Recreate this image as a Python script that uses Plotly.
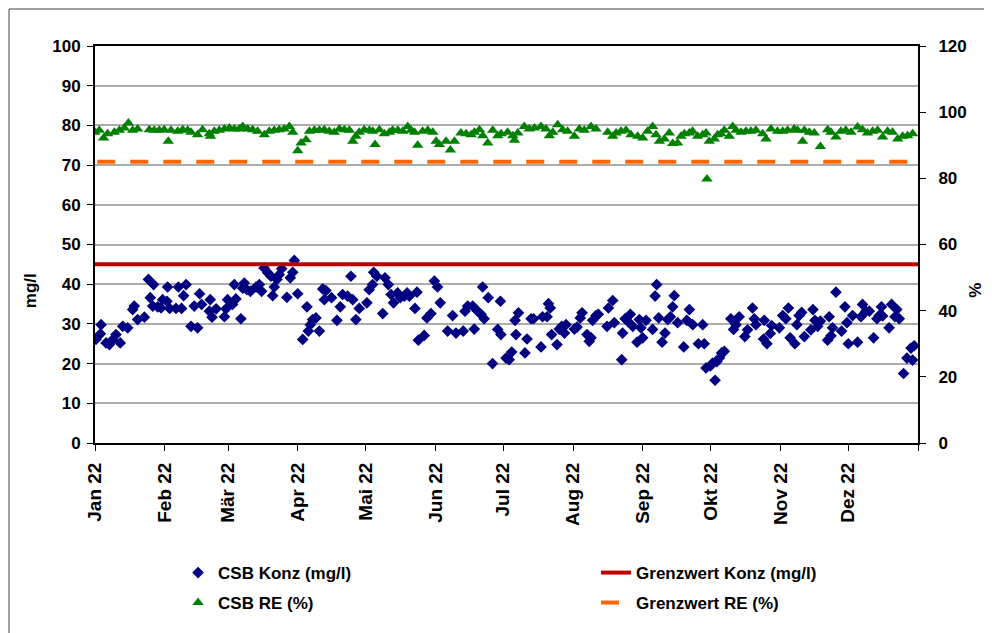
import pandas as pd
import plotly.graph_objects as go

# ---- data ----
# day offset from 1 Jan 2022, CSB concentration in mg/l
konz_day = [0.4, 2.4, 2.7, 4.9, 6.4, 7.8, 9.3, 11.2, 12.3, 14.5, 16.7, 17.4, 18.9, 21.9, 23.7, 24.5, 25.6, 26.0,
            27.8, 29.3, 30.0, 31.9, 32.2, 33.1, 35.9, 37.0, 38.4, 39.3, 40.4, 42.6, 44.0, 45.5, 46.4, 47.3, 50.7,
            51.1, 51.9, 53.7, 57.4, 58.1, 58.8, 61.0, 61.8, 62.5, 64.7, 65.5, 66.2, 67.4, 68.9, 71.4, 72.9, 73.9,
            75.0, 76.6, 78.0, 78.8, 79.5, 80.7, 81.7, 82.8, 85.1, 86.6, 87.7, 88.4, 89.9, 92.1, 94.0, 94.6,
            95.5, 96.5, 98.0, 99.5, 101.0, 101.7, 102.4, 104.9, 107.3, 108.8, 109.8, 112.0, 113.5, 114.3, 115.7,
            117.2, 120.6, 121.6, 123.1, 123.6, 125.0, 127.6, 128.6, 130.1, 131.3, 132.4, 134.2, 135.4, 137.2,
            138.4, 139.4, 141.9, 142.8, 143.4, 146.0, 147.2, 149.0, 150.5, 151.9, 153.1, 156.4, 158.6, 160.1,
            163.3, 164.1, 165.3, 167.5, 168.2, 169.7, 171.2, 171.9, 172.6, 174.4, 176.3, 178.6, 179.8, 180.0,
            182.3, 183.7, 184.8, 186.3, 186.7, 187.8, 190.7, 191.6, 193.4, 194.5, 197.8, 198.5, 200.5, 201.1,
            201.9, 202.5, 204.9, 205.9, 207.0, 208.2, 208.9, 212.6, 213.8, 215.2, 216.0, 218.2, 219.2, 220.0,
            220.7, 222.2, 223.2, 227.1, 227.7, 229.6, 230.3, 233.6, 234.0, 235.1, 236.2, 237.4, 238.5, 240.4,
            241.4, 242.1, 242.9, 244.4, 247.3, 248.4, 249.1, 250.0, 251.5, 252.8, 254.0, 255.2, 256.2, 256.9,
            258.4, 261.1, 262.5, 263.6, 265.1, 267.6, 269.5, 270.2, 271.0, 272.9, 273.9, 275.0, 275.8, 276.9,
            277.9, 279.1, 282.0, 283.2, 284.3, 285.7, 288.2, 289.4, 291.6, 292.4, 293.1, 296.5, 296.8, 298.0,
            299.5, 300.1, 303.5, 305.0, 306.4, 307.5, 308.3, 310.4, 311.3, 312.3, 313.4, 314.6, 317.5, 318.4,
            319.3, 320.5, 321.7, 324.9, 325.6, 326.4, 327.1, 328.6, 331.1, 332.6, 333.5, 334.1, 336.0, 338.2,
            339.7, 340.4, 341.9, 343.4, 345.3, 346.8, 347.8, 348.8, 349.3, 352.2, 353.3, 354.8, 355.6, 356.7,
            358.6, 360.1, 361.9, 362.6, 363.3]
konz_val = [26.1, 27.5, 29.8, 25.2, 24.8, 26.0, 27.3, 25.2, 29.4, 29.0, 33.6, 34.5, 31.1, 31.7, 41.2, 36.6, 34.5, 39.9,
            34.3, 34.0, 36.1, 35.7, 39.3, 33.9, 33.9, 39.3, 33.9, 37.1, 39.9, 29.4, 34.5, 29.0, 37.6, 34.9, 33.2,
            36.1, 31.7, 33.8, 31.8, 33.8, 36.1, 34.9, 39.9, 36.3, 31.3, 39.0, 40.3, 38.6, 38.2, 39.3, 39.9, 38.2,
            44.1, 42.9, 42.0, 37.1, 39.3, 41.2, 42.4, 43.9, 36.7, 41.6, 43.0, 46.0, 37.6, 26.1, 34.3, 28.2,
            29.8, 31.1, 31.5, 28.2, 38.8, 36.1, 38.4, 36.6, 30.9, 34.3, 37.4, 37.0, 42.0, 36.1, 31.1,
            33.9, 35.3, 38.6, 39.9, 43.0, 42.0, 32.6, 41.6, 39.9, 37.4, 35.3, 37.8, 36.6, 37.0,
            37.8, 37.0, 33.9, 38.0, 25.9, 27.1, 31.5, 32.6, 40.8, 39.3, 35.3, 28.2, 32.1, 27.7,
            28.2, 33.2, 34.5, 34.5, 28.7, 33.2, 32.4, 39.3, 31.3, 36.6, 20.0, 28.6, 35.7, 27.3,
            21.4, 21.0, 22.9, 30.9, 27.3, 32.8, 22.7, 26.2, 31.3, 31.3, 24.2, 31.8, 31.8, 35.1,
            34.0, 27.3, 24.8, 28.7, 29.4, 27.7, 29.8, 28.7, 29.2, 31.5, 32.8, 27.3, 25.6, 26.5,
            30.9, 32.1, 32.4, 29.4, 34.0, 35.9, 30.3, 21.0, 27.7, 31.3, 30.7, 32.4, 29.4, 25.4,
            31.1, 29.0, 26.5, 30.9, 28.6, 37.0, 39.9, 31.5, 25.4, 27.7, 31.1, 31.8, 34.3, 37.1,
            30.3, 24.2, 30.9, 33.6, 29.8, 25.0, 29.8, 25.0, 18.9, 19.4, 20.1, 15.8, 20.5, 21.4,
            22.7, 23.1, 31.3, 28.6, 29.8, 31.8, 26.8, 28.5, 34.0, 31.3, 29.8, 26.2, 30.9, 25.0,
            27.6, 29.6, 29.0, 32.1, 31.3, 34.0, 26.5, 25.0, 29.8, 32.1, 32.9, 26.8, 28.5, 33.6,
            30.9, 29.4, 30.7, 25.9, 31.8, 27.0, 29.0, 38.0, 28.2, 34.3, 30.3, 25.0, 32.1, 25.4,
            31.8, 34.9, 33.2, 33.2, 26.5, 31.3, 32.1, 34.3, 32.0, 29.0, 34.9, 31.8, 33.6, 31.3,
            17.5, 21.4, 23.9, 20.9, 24.5]

# day offset from 1 Jan 2022, CSB removal efficiency in %
re_day = [0.0, 1.9, 3.8, 5.6, 8.6, 10.8, 13.0, 14.8, 16.7, 18.9, 24.1, 26.3, 28.5, 30.7, 32.5, 33.7, 36.7, 38.9,
          41.1, 42.6, 45.5, 47.7, 50.7, 51.2, 52.9, 55.1, 57.4, 59.6, 61.8, 64.0, 65.5, 67.7, 69.9, 72.1, 75.1,
          77.3, 79.5, 81.7, 83.9, 86.2, 87.7, 89.9, 91.4, 93.6, 95.1, 97.3, 99.5, 101.7, 103.9, 106.1, 108.4,
          110.6, 112.8, 114.3, 115.7, 117.2, 119.4, 121.7, 123.2, 124.2, 126.1, 128.3, 130.6, 132.0, 134.3,
          136.5, 138.7, 140.2, 141.7, 143.1, 145.3, 147.6, 149.8, 151.3, 152.7, 155.7, 157.6, 159.4, 162.3,
          164.6, 166.8, 168.3, 170.5, 172.0, 174.2, 176.4, 178.6, 180.1, 183.0, 185.3, 186.0, 187.5, 190.4,
          192.6, 194.9, 197.8, 200.0, 201.5, 203.0, 205.2, 207.4, 209.6, 212.6, 214.8, 217.0, 220.0, 222.2,
          227.4, 229.6, 231.1, 233.3, 235.5, 237.7, 240.7, 242.9, 245.1, 247.3, 248.8, 250.3, 252.5, 254.7,
          256.2, 258.4, 259.9, 261.4, 263.6, 265.0, 267.3, 269.5, 271.0, 271.4, 272.4, 274.7, 276.1, 277.6,
          279.1, 281.3, 282.8, 284.3, 286.5, 288.7, 290.9, 293.1, 296.1, 297.6, 299.8, 302.7, 305.0, 307.2,
          310.1, 311.6, 313.8, 314.6, 316.8, 319.0, 321.7, 324.9, 326.4, 328.6, 330.8, 333.0, 335.3, 338.2,
          340.4, 342.6, 344.9, 347.1, 349.3, 351.5, 353.7, 356.0, 358.2, 360.4, 362.6]
re_val = [93.9, 94.5, 92.2, 93.5, 93.9, 94.5, 95.2, 96.7, 94.5, 94.9, 94.7, 94.5, 94.5, 94.7, 91.2, 94.5, 94.2, 94.7,
          94.5, 93.9, 93.2, 94.7, 93.5, 92.7, 94.2, 94.5, 94.9, 95.2, 94.9, 94.9, 95.7, 94.9, 94.7, 94.2, 93.2,
          94.2, 94.5, 94.7, 94.9, 95.7, 93.9, 88.3, 90.7, 91.7, 94.2, 94.5, 94.5, 94.7, 94.2, 93.9, 94.9,
          94.7, 94.5, 91.2, 92.7, 93.9, 94.7, 94.5, 94.2, 90.2, 94.7, 93.5, 93.9, 94.5, 94.5,
          94.2, 95.7, 94.5, 93.9, 90.0, 94.2, 94.5, 93.9, 91.2, 90.2, 91.2, 88.6, 91.2, 93.7,
          93.5, 93.2, 93.9, 94.7, 92.9, 90.7, 94.5, 92.9, 93.5, 93.9, 92.9, 91.5, 93.7, 95.7,
          94.9, 95.2, 95.7, 94.9, 92.9, 93.9, 96.2, 94.7, 94.2, 92.7, 94.9, 94.5, 95.7, 94.9,
          93.9, 92.7, 93.7, 94.2, 94.5, 93.2, 92.7, 92.2, 94.2, 95.7, 93.2, 91.2, 91.9, 93.7,
          90.5, 90.7, 92.7, 93.5, 93.7, 94.2, 92.7, 93.2, 93.7, 79.8, 91.2, 91.9, 93.2, 93.5,
          94.5, 92.7, 95.7, 94.5, 93.9, 94.2, 94.2, 94.5, 93.5, 91.9, 94.9, 94.2, 94.2, 94.5,
          94.9, 94.5, 91.2, 94.5, 93.9, 93.7, 89.6, 94.7, 93.9, 92.5, 94.2, 94.5, 93.9, 95.5,
          94.7, 93.7, 94.2, 94.5, 92.5, 94.2, 93.9, 91.9, 92.7, 92.9, 93.5]

limit_konz = 45      # mg/l
limit_re = 85        # %
limit_dates = ["2022-01-01", "2023-01-01"]

tick_dates = ["2022-01-01", "2022-02-01", "2022-03-01", "2022-04-01", "2022-05-01", "2022-06-01",
              "2022-07-01", "2022-08-01", "2022-09-01", "2022-10-01", "2022-11-01", "2022-12-01", "2023-01-01"]
tick_labels = ["Jan 22", "Feb 22", "Mär 22", "Apr 22", "Mai 22", "Jun 22",
               "Jul 22", "Aug 22", "Sep 22", "Okt 22", "Nov 22", "Dez 22", ""]

start = pd.Timestamp("2022-01-01")
konz_x = start + pd.to_timedelta(konz_day, unit="D")
re_x = start + pd.to_timedelta(re_day, unit="D")

FONT = "Liberation Sans, Arial, sans-serif"

fig = go.Figure()
fig.add_trace(go.Scatter(x=konz_x, y=konz_val, mode="markers", name="CSB Konz (mg/l)", showlegend=True,
                         marker=dict(symbol="diamond", size=9, color="#000080"), legend="legend"))
fig.add_trace(go.Scatter(x=limit_dates, y=[limit_konz, limit_konz], mode="lines", name="Grenzwert Konz (mg/l)",
                         showlegend=True, line=dict(color="#C00000", width=4), legend="legend2"))
fig.add_trace(go.Scatter(x=re_x, y=re_val, mode="markers", name="CSB RE (%)", yaxis="y2", showlegend=True,
                         marker=dict(symbol="triangle-up", size=10, color="#008000"), legend="legend3"))
fig.add_trace(go.Scatter(x=["2022-01-02", "2022-12-29"], y=[limit_re, limit_re], mode="lines",
                         name="Grenzwert RE (%)", yaxis="y2", showlegend=True,
                         line=dict(color="#FF6600", width=4, dash="18px,15px"), legend="legend4"))

y_font = dict(family=FONT, size=17, color="black", weight="bold")
x_font = dict(family=FONT, size=19, color="black", weight="bold")
leg_font = dict(family=FONT, size=17, color="black", weight="bold")


def leg(x, y):
    return dict(orientation="h", x=x, xanchor="left", y=y, yanchor="middle",
                font=leg_font, bgcolor="rgba(0,0,0,0)")


# figure sits 8px from the page's top-left corner (default body margin)
fig.update_layout(
    width=984, height=625,
    margin=dict(l=87, r=74, t=38, b=190),
    showlegend=True,
    paper_bgcolor="white", plot_bgcolor="white",
    font=dict(family=FONT, color="black"),
    xaxis=dict(type="date", range=["2022-01-01", "2023-01-01"], tickvals=tick_dates, ticktext=tick_labels,
               tickangle=-90, tickfont=x_font, ticks="outside", ticklen=6, tickcolor="black",
               ticklabelstandoff=4,
               showgrid=False, showline=True, linecolor="black", linewidth=2, mirror=True, zeroline=False),
    yaxis=dict(range=[0, 100], dtick=10, tickfont=y_font, ticks="outside", ticklen=6, tickcolor="black",
               ticklabelstandoff=3,
               showgrid=True, gridcolor="#ABABAB", gridwidth=2, showline=True, linecolor="black",
               linewidth=2, mirror=True, zeroline=False),
    yaxis2=dict(range=[0, 120], dtick=20, overlaying="y", side="right", tickfont=y_font,
                ticks="outside", ticklen=6, tickcolor="black", ticklabelstandoff=9, showgrid=False,
                showline=True, linecolor="black", linewidth=2, zeroline=False),
    legend=leg(0.1009, -0.3275),
    legend2=leg(0.6088, -0.3275),
    legend3=leg(0.1009, -0.403),
    legend4=leg(0.6088, -0.403),
    annotations=[
        dict(text="<b>mg/l</b>", xref="paper", yref="paper", x=-0.079, y=0.385, showarrow=False,
             textangle=-90, font=dict(family=FONT, size=17, color="black"), xanchor="center", yanchor="middle"),
        dict(text="<b>%</b>", xref="paper", yref="paper", x=1.07, y=0.385, showarrow=False,
             textangle=-90, font=dict(family=FONT, size=17, color="black"), xanchor="center", yanchor="middle"),
    ],
    shapes=[dict(type="rect", xref="paper", yref="paper", x0=-86 / 823, y0=-0.62, x1=1.3, y1=1 + 37 / 397,
                 line=dict(color="#404040", width=1), fillcolor="rgba(0,0,0,0)", layer="below")],
)

fig.write_html("out.html")
